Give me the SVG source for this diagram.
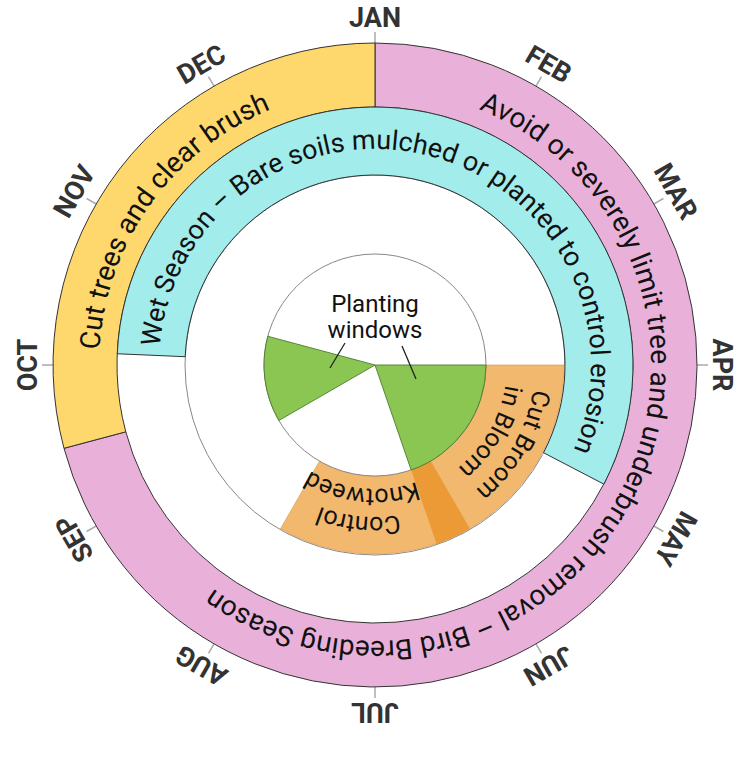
<svg xmlns="http://www.w3.org/2000/svg" width="750" height="757" viewBox="0 0 750 757">
<style>
.ring{stroke:#333;stroke-width:1}
.pink{fill:#e9b1d9}
.yellow{fill:#fed86c}
.cyan{fill:#a2ecec}
.orl{fill:#f2b86e;stroke:#d9964a;stroke-width:0.6}
.ord{fill:#ec9a36}
.green{fill:#8bc653;stroke:#4f7a2c;stroke-width:0.9}
.tick{stroke:#aaa;stroke-width:1.5}
.month{font-family:Roboto,"Liberation Sans",sans-serif;font-weight:bold;font-size:27px;fill:#333;text-anchor:middle}
.rt{font-family:Roboto,"Liberation Sans",sans-serif;font-size:28px;fill:#111}
.ct{font-family:Roboto,"Liberation Sans",sans-serif;font-size:27px;fill:#111}
.st{font-family:Roboto,"Liberation Sans",sans-serif;font-size:25px;fill:#111}
.lbl{font-family:Roboto,"Liberation Sans",sans-serif;font-size:24px;fill:#111;text-anchor:middle}
.lead{stroke:#222;stroke-width:1.3;fill:none}
</style>
<defs>
<path id="pPink" d="M370.18,89.04 A276,276 0 1 1 138.42,507.14"/>
<path id="pYellow" d="M107.8,434.1 A276,276 0 0 1 353.3,89.9"/>
<path id="pCyan" d="M167.37,424.54 A216,216 0 1 1 530.38,515.04"/>
<path id="pCut" d="M513.6,285 A160,160 0 0 1 375,525"/>
<path id="pIn" d="M489.3,299 A132,132 0 0 1 375,497"/>
<path id="pCon" d="M498,454.3 A152,152 0 0 1 236.1,426.8"/>
<path id="pKno" d="M475.3,437.9 A124,124 0 0 1 261.7,415.4"/>
</defs>
<rect width="750" height="757" fill="#fff"/>
<g id="ticks">
<line class="tick" x1="375" y1="43" x2="375" y2="32" transform="rotate(0 375 365)"/>
<line class="tick" x1="375" y1="43" x2="375" y2="32" transform="rotate(30 375 365)"/>
<line class="tick" x1="375" y1="43" x2="375" y2="32" transform="rotate(60 375 365)"/>
<line class="tick" x1="375" y1="43" x2="375" y2="32" transform="rotate(90 375 365)"/>
<line class="tick" x1="375" y1="43" x2="375" y2="32" transform="rotate(120 375 365)"/>
<line class="tick" x1="375" y1="43" x2="375" y2="32" transform="rotate(150 375 365)"/>
<line class="tick" x1="375" y1="43" x2="375" y2="32" transform="rotate(180 375 365)"/>
<line class="tick" x1="375" y1="43" x2="375" y2="32" transform="rotate(210 375 365)"/>
<line class="tick" x1="375" y1="43" x2="375" y2="32" transform="rotate(240 375 365)"/>
<line class="tick" x1="375" y1="43" x2="375" y2="32" transform="rotate(270 375 365)"/>
<line class="tick" x1="375" y1="43" x2="375" y2="32" transform="rotate(300 375 365)"/>
<line class="tick" x1="375" y1="43" x2="375" y2="32" transform="rotate(330 375 365)"/>
</g>
<g id="months">
<text class="month" x="375" y="27" transform="rotate(0 375 365)">JAN</text>
<text class="month" x="375" y="27" transform="rotate(30 375 365)">FEB</text>
<text class="month" x="375" y="27" transform="rotate(60 375 365)">MAR</text>
<text class="month" x="375" y="27" transform="rotate(90 375 365)">APR</text>
<text class="month" x="375" y="27" transform="rotate(120 375 365)">MAY</text>
<text class="month" x="375" y="27" transform="rotate(150 375 365)">JUN</text>
<text class="month" x="375" y="27" transform="rotate(180 375 365)">JUL</text>
<text class="month" x="375" y="27" transform="rotate(210 375 365)">AUG</text>
<text class="month" x="375" y="27" transform="rotate(240 375 365)">SEP</text>
<text class="month" x="375" y="27" transform="rotate(270 375 365)">OCT</text>
<text class="month" x="375" y="27" transform="rotate(300 375 365)">NOV</text>
<text class="month" x="375" y="27" transform="rotate(330 375 365)">DEC</text>
</g>
<circle id="guide-circle" cx="375" cy="365" r="190" fill="none" stroke="#888" stroke-width="1"/>
<g id="bird-season">
<path class="ring pink" d="M375,43 A322,322 0 1 1 64.0,448.3 L125.8,431.8 A258,258 0 1 0 375,107 Z"/>
<text class="rt"><textPath href="#pPink" startOffset="50%" text-anchor="middle">Avoid or severely limit tree and underbrush removal – Bird Breeding Season</textPath></text>
</g>
<g id="cut-trees">
<path class="ring yellow" d="M64.0,448.3 A322,322 0 0 1 375,43 L375,107 A258,258 0 0 0 125.8,431.8 Z"/>
<text class="rt"><textPath href="#pYellow" startOffset="50%" text-anchor="middle">Cut trees and clear brush</textPath></text>
</g>
<g id="wet-season">
<path class="ring cyan" d="M117.25,353.75 A258,258 0 1 1 603.85,484.13 L543.53,452.73 A190,190 0 1 0 185.18,356.71 Z"/>
<text class="ct"><textPath href="#pCyan" startOffset="50%" text-anchor="middle">Wet Season – Bare soils mulched or planted to control erosion</textPath></text>
</g>
<g id="cut-broom">
<path class="orl" d="M564,365 A189,189 0 0 1 436.53,543.70 L411.14,469.95 A111,111 0 0 0 486,365 Z"/>
<text class="st"><textPath href="#pCut" startOffset="50%" text-anchor="middle">Cut Broom</textPath></text>
<text class="st"><textPath href="#pIn" startOffset="50%" text-anchor="middle">in Bloom</textPath></text>
</g>
<g id="control-knotweed">
<path class="orl" d="M469.5,528.68 A189,189 0 0 1 280.5,528.68 L319.5,461.13 A111,111 0 0 0 430.5,461.13 Z"/>
<path class="ord" d="M469.5,528.68 A189,189 0 0 1 436.53,543.70 L411.14,469.95 A111,111 0 0 0 430.5,461.13 Z"/>
<text class="st"><textPath href="#pCon" startOffset="50%" text-anchor="middle">Control</textPath></text>
<text class="st"><textPath href="#pKno" startOffset="50%" text-anchor="middle">Knotweed</textPath></text>
</g>
<g id="planting-windows">
<circle cx="375" cy="365" r="111" fill="#fff" stroke="#888" stroke-width="1"/>
<path class="green" d="M375,365 L486,365 A111,111 0 0 1 411.14,469.95 Z"/>
<path class="green" d="M375,365 L278.87,420.5 A111,111 0 0 1 267.78,336.27 Z"/>
<text class="lbl" x="375" y="312">Planting</text>
<text class="lbl" x="375" y="338">windows</text>
</g>
<g id="connectors">
<line class="lead" x1="345" y1="343" x2="330" y2="368"/>
<line class="lead" x1="402" y1="346" x2="416" y2="379"/>
</g>
</svg>
